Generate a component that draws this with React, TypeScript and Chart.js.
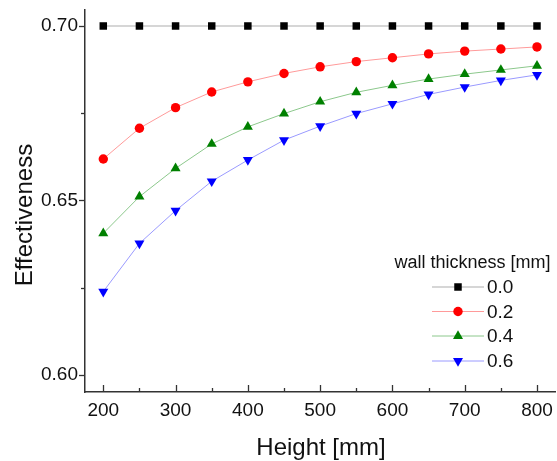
import React, { useEffect, useRef } from "react";
import { Chart, registerables } from "chart.js";
import { drawPoint } from "chart.js/helpers";

Chart.register(...registerables);

const heights = [200, 250, 300, 350, 400, 450, 500, 550, 600, 650, 700, 750, 800];
const series00 = [0.7, 0.7, 0.7, 0.7, 0.7, 0.7, 0.7, 0.7, 0.7, 0.7, 0.7, 0.7, 0.7];
const series02 = [0.6619, 0.6707, 0.6766, 0.6811, 0.684, 0.6864, 0.6883, 0.6898, 0.6909, 0.692, 0.6928, 0.6934, 0.694];
const series04 = [0.6406, 0.6511, 0.6592, 0.6662, 0.6711, 0.6749, 0.6783, 0.681, 0.683, 0.6848, 0.6862, 0.6874, 0.6886];
const series06 = [0.6239, 0.6377, 0.6471, 0.6555, 0.6616, 0.6673, 0.6713, 0.6749, 0.6777, 0.6804, 0.6825, 0.6844, 0.686];
const seriesLabels = ["0.0", "0.2", "0.4", "0.6"];

const xMajorTicks = [200, 300, 400, 500, 600, 700, 800];
const xMinorTicks = [250, 350, 450, 550, 650, 750];
const yMajorTicks = [0.6, 0.65, 0.7];
const yMinorTicks = [0.625, 0.675];

const xTitle = "Height [mm]";
const yTitle = "Effectiveness";
const legendTitle = "wall thickness [mm]";

const FONT = "'Liberation Sans', Arial, Helvetica, sans-serif";
const TEXT = "#111111";
const AXIS = "#333333";

const ticksPlugin = {
  id: "customTicks",
  afterDraw(chart: any) {
    const ctx = chart.ctx;
    const xs = chart.scales.x;
    const ys = chart.scales.y;
    const area = chart.chartArea;
    ctx.save();
    ctx.strokeStyle = AXIS;
    ctx.lineWidth = 1.3;
    const xt = (vals: number[], len: number) => {
      for (const v of vals) {
        const px = Math.round(xs.getPixelForValue(v)) + 0.5;
        ctx.beginPath();
        ctx.moveTo(px, area.bottom);
        ctx.lineTo(px, area.bottom - len);
        ctx.stroke();
      }
    };
    const yt = (vals: number[], len: number) => {
      for (const v of vals) {
        const py = Math.round(ys.getPixelForValue(v)) + 0.5;
        ctx.beginPath();
        ctx.moveTo(area.left, py);
        ctx.lineTo(area.left - len, py);
        ctx.stroke();
      }
    };
    xt(xMajorTicks, 7);
    xt(xMinorTicks, 4);
    yt(yMajorTicks, 6);
    yt(yMinorTicks, 4);

    // axis titles
    ctx.fillStyle = TEXT;
    ctx.font = `24px ${FONT}`;
    ctx.textAlign = "center";
    ctx.textBaseline = "alphabetic";
    ctx.fillText(xTitle, 321, 455);
    ctx.save();
    ctx.translate(31.5, 215);
    ctx.rotate(-Math.PI / 2);
    ctx.fillText(yTitle, 0, 0);
    ctx.restore();

    // legend
    ctx.font = `18px ${FONT}`;
    ctx.textAlign = "center";
    ctx.textBaseline = "middle";
    ctx.fillText(legendTitle, 472.5, 263);
    const rows = [287, 311.5, 336, 361];
    chart.data.datasets.forEach((ds: any, i: number) => {
      const y = rows[i];
      ctx.strokeStyle = ds.borderColor;
      ctx.lineWidth = ds.borderWidth;
      ctx.beginPath();
      ctx.moveTo(432, y);
      ctx.lineTo(484, y);
      ctx.stroke();
      ctx.fillStyle = ds.pointBackgroundColor;
      ctx.strokeStyle = ds.pointBackgroundColor;
      drawPoint(ctx, { pointStyle: ds.pointStyle, radius: ds.pointRadius, rotation: ds.pointRotation || 0, borderWidth: 0 }, 458, y);
      ctx.fillStyle = TEXT;
      ctx.font = `19px ${FONT}`;
      ctx.textAlign = "left";
      ctx.fillText(ds.label, 487, y + 1);
    });
    ctx.restore();
  },
};

const zeroPad = (s: any) => {
  s.paddingTop = 0;
  s.paddingBottom = 0;
  s.paddingLeft = 0;
  s.paddingRight = 0;
};

export default function App() {
  const ref = useRef<HTMLCanvasElement>(null);
  useEffect(() => {
    if (!ref.current) return;
    const mk = (data: number[]) => heights.map((h, i) => ({ x: h, y: data[i] }));
    const chart = new Chart(ref.current, {
      type: "line",
      data: {
        datasets: [
          {
            label: seriesLabels[0],
            data: mk(series00),
            borderColor: "#c8c8c8",
            borderWidth: 1.5,
            pointStyle: "rect",
            pointRadius: 5.3,
            pointBackgroundColor: "#000000",
            pointBorderWidth: 0,
          },
          {
            label: seriesLabels[1],
            data: mk(series02),
            borderColor: "#ff9a9a",
            borderWidth: 1,
            pointStyle: "circle",
            pointRadius: 4.7,
            pointBackgroundColor: "#ff0000",
            pointBorderWidth: 0,
          },
          {
            label: seriesLabels[2],
            data: mk(series04),
            borderColor: "#8cc88c",
            borderWidth: 1,
            pointStyle: "triangle",
            pointRadius: 5.8,
            pointBackgroundColor: "#008000",
            pointBorderWidth: 0,
          },
          {
            label: seriesLabels[3],
            data: mk(series06),
            borderColor: "#9a9aff",
            borderWidth: 1,
            pointStyle: "triangle",
            pointRotation: 180,
            pointRadius: 5.8,
            pointBackgroundColor: "#0000ff",
            pointBorderWidth: 0,
          },
        ] as any,
      },
      options: {
        animation: false,
        responsive: false,
        events: [],
        layout: { autoPadding: false, padding: { top: 10, right: 2, left: 0, bottom: 0 } },
        plugins: { legend: { display: false }, tooltip: { enabled: false } },
        elements: { line: { tension: 0 } },
        scales: {
          x: {
            type: "linear",
            min: 174.7,
            max: 824.9,
            grid: { display: false, drawTicks: false },
            border: { display: true, color: AXIS, width: 1.5 },
            afterBuildTicks: (s: any) => {
              s.ticks = xMajorTicks.map((v) => ({ value: v }));
            },
            afterFit: (s: any) => {
              s.height = 69;
              zeroPad(s);
            },
            ticks: {
              font: { family: FONT, size: 19 },
              color: TEXT,
              padding: 7,
              maxRotation: 0,
              callback: (v: any) => String(v),
            },
          },
          y: {
            type: "linear",
            min: 0.59513,
            max: 0.70458,
            grid: { display: false, drawTicks: false },
            border: { display: true, color: AXIS, width: 1.5 },
            afterBuildTicks: (s: any) => {
              s.ticks = yMajorTicks.map((v) => ({ value: v }));
            },
            afterFit: (s: any) => {
              s.width = 85;
              zeroPad(s);
            },
            ticks: {
              font: { family: FONT, size: 19 },
              color: TEXT,
              padding: 7,
              callback: (v: any) => Number(v).toFixed(2),
            },
          },
        },
      } as any,
      plugins: [ticksPlugin],
    });
    return () => chart.destroy();
  }, []);
  return (
    <div style={{ position: "fixed", left: 0, top: 0, width: 557, height: 461, background: "#fff" }}>
      <canvas ref={ref} width={557} height={461} style={{ display: "block", width: 557, height: 461 }} />
    </div>
  );
}
